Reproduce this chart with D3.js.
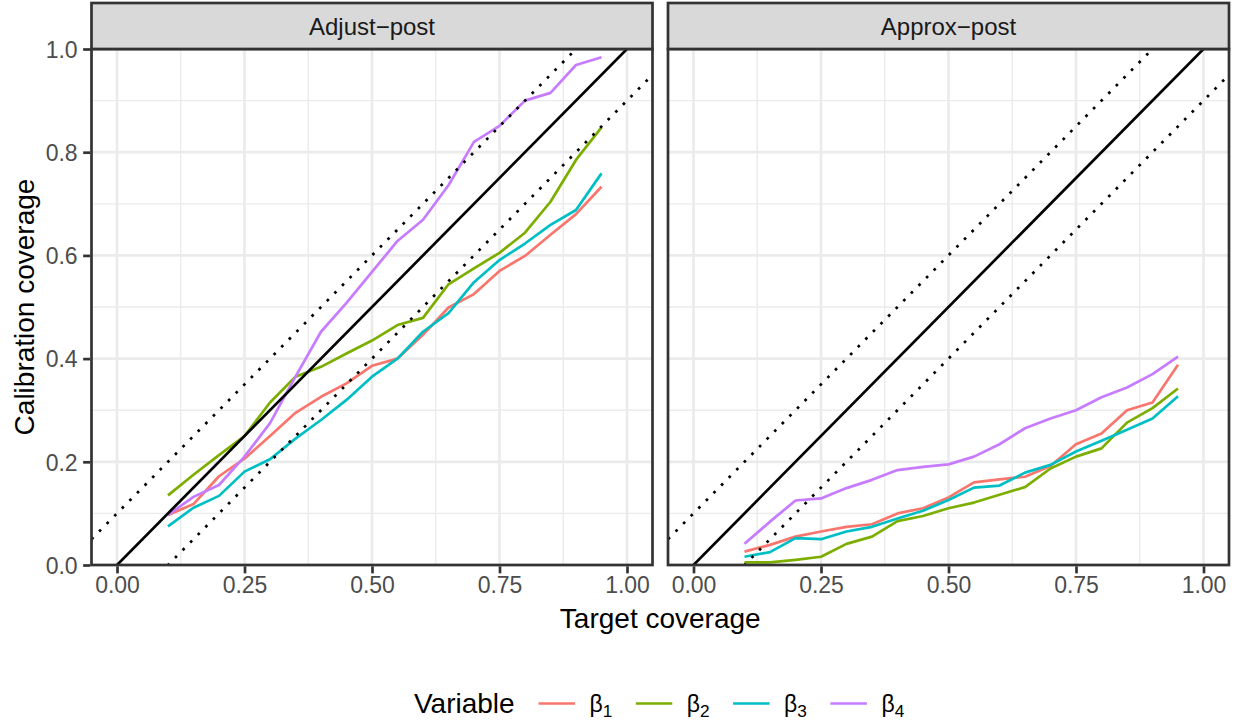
<!DOCTYPE html>
<html>
<head>
<meta charset="utf-8">
<script src="https://cdn.jsdelivr.net/npm/d3@7"></script>
<style>
  html, body { margin: 0; padding: 0; background: #ffffff; }
  svg { display: block; font-family: "Liberation Sans", Arial, Helvetica, sans-serif; }
</style>
</head>
<body>
<svg id="chart" width="1242" height="721"></svg>
<script>
// ---------------- data ----------------
const targetCoverage = [0.10, 0.15, 0.20, 0.25, 0.30, 0.35, 0.40, 0.45, 0.50,
                        0.55, 0.60, 0.65, 0.70, 0.75, 0.80, 0.85, 0.90, 0.95];
const panelNames = ["Adjust\u2212post", "Approx\u2212post"];
const seriesNames = ["1", "2", "3", "4"];   // subscripts of beta
const seriesColors = ["#F8766D", "#7CAE00", "#00BFC4", "#C77CFF"];

// Adjust-post panel
const adjustB1 = [0.097, 0.118, 0.172, 0.206, 0.250, 0.295, 0.326, 0.352, 0.386,
                  0.400, 0.446, 0.499, 0.525, 0.570, 0.599, 0.640, 0.680, 0.733];
const adjustB2 = [0.135, 0.175, 0.213, 0.250, 0.315, 0.365, 0.384, 0.410, 0.435,
                  0.465, 0.479, 0.544, 0.575, 0.605, 0.644, 0.704, 0.785, 0.848];
const adjustB3 = [0.075, 0.111, 0.134, 0.181, 0.205, 0.245, 0.281, 0.320, 0.365,
                  0.400, 0.452, 0.488, 0.548, 0.591, 0.623, 0.659, 0.688, 0.759];
const adjustB4 = [0.097, 0.132, 0.155, 0.210, 0.275, 0.365, 0.452, 0.508, 0.568,
                  0.628, 0.669, 0.736, 0.820, 0.851, 0.900, 0.915, 0.969, 0.984];

// Approx-post panel
const approxB1 = [0.026, 0.039, 0.055, 0.065, 0.074, 0.079, 0.100, 0.110, 0.131,
                  0.160, 0.166, 0.171, 0.192, 0.234, 0.255, 0.300, 0.315, 0.388];
const approxB2 = [0.005, 0.005, 0.010, 0.016, 0.041, 0.055, 0.085, 0.095, 0.110,
                  0.121, 0.136, 0.151, 0.187, 0.210, 0.226, 0.276, 0.304, 0.342];
const approxB3 = [0.016, 0.025, 0.052, 0.050, 0.065, 0.074, 0.090, 0.105, 0.126,
                  0.150, 0.154, 0.179, 0.194, 0.220, 0.241, 0.262, 0.284, 0.327];
const approxB4 = [0.041, 0.084, 0.125, 0.129, 0.149, 0.165, 0.184, 0.190, 0.195,
                  0.210, 0.234, 0.265, 0.284, 0.300, 0.325, 0.344, 0.370, 0.404];

const xTicks = [0, 0.25, 0.5, 0.75, 1.0];
const xTickLabels = ["0.00", "0.25", "0.50", "0.75", "1.00"];
const xMinor = [0.125, 0.375, 0.625, 0.875];
const yTicks = [0, 0.2, 0.4, 0.6, 0.8, 1.0];
const yTickLabels = ["0.0", "0.2", "0.4", "0.6", "0.8", "1.0"];
const yMinor = [0.1, 0.3, 0.5, 0.7, 0.9];
const refOffsets = [0, 0.1, -0.1];   // y = x + offset

const panelSeries = [
  [adjustB1, adjustB2, adjustB3, adjustB4],
  [approxB1, approxB2, approxB3, approxB4]
];

// ---------------- layout ----------------
const svg = d3.select("#chart");
const panelW = 561, panelH = 516;
const panelTop = 49, stripH = 46;
const panelLefts = [91.5, 668];
const lw = 2.7;
const tickFont = 23, stripFont = 24, titleFont = 28;

const x = d3.scaleLinear().domain([-0.05, 1.05]).range([0, panelW]);
const y = d3.scaleLinear().domain([0, 1]).range([panelH, 0]);

const defs = svg.append("defs");
defs.append("clipPath").attr("id", "pclip")
  .append("rect").attr("x", 0).attr("y", 0).attr("width", panelW).attr("height", panelH);

panelNames.forEach((name, pi) => {
  const g = svg.append("g").attr("transform", `translate(${panelLefts[pi]},${panelTop})`);

  g.append("rect").attr("width", panelW).attr("height", panelH).attr("fill", "#ffffff");

  // minor grid
  g.selectAll(".vminor").data(xMinor).enter().append("line")
    .attr("x1", d => x(d)).attr("x2", d => x(d)).attr("y1", 0).attr("y2", panelH)
    .attr("stroke", "#EBEBEB").attr("stroke-width", lw / 2);
  g.selectAll(".hminor").data(yMinor).enter().append("line")
    .attr("y1", d => y(d)).attr("y2", d => y(d)).attr("x1", 0).attr("x2", panelW)
    .attr("stroke", "#EBEBEB").attr("stroke-width", lw / 2);
  // major grid
  g.selectAll(".vmajor").data(xTicks).enter().append("line")
    .attr("x1", d => x(d)).attr("x2", d => x(d)).attr("y1", 0).attr("y2", panelH)
    .attr("stroke", "#EBEBEB").attr("stroke-width", lw);
  g.selectAll(".hmajor").data(yTicks).enter().append("line")
    .attr("y1", d => y(d)).attr("y2", d => y(d)).attr("x1", 0).attr("x2", panelW)
    .attr("stroke", "#EBEBEB").attr("stroke-width", lw);

  const plot = g.append("g").attr("clip-path", "url(#pclip)");

  // series lines
  const line = d3.line().x((d, i) => x(targetCoverage[i])).y(d => y(d));
  panelSeries[pi].forEach((vals, si) => {
    plot.append("path").datum(vals)
      .attr("d", line)
      .attr("fill", "none")
      .attr("stroke", seriesColors[si])
      .attr("stroke-width", lw)
      .attr("stroke-linejoin", "round")
      .attr("stroke-linecap", "butt");
  });

  // reference lines
  refOffsets.forEach(off => {
    const dom = x.domain();
    plot.append("line")
      .attr("x1", x(dom[0])).attr("y1", y(dom[0] + off))
      .attr("x2", x(dom[1])).attr("y2", y(dom[1] + off))
      .attr("stroke", "#000000")
      .attr("stroke-width", lw)
      .attr("stroke-dasharray", off === 0 ? null : `${lw} ${lw * 3}`)
      .attr("stroke-linecap", "butt");
  });

  // panel border
  g.append("rect").attr("width", panelW).attr("height", panelH)
    .attr("fill", "none").attr("stroke", "#333333").attr("stroke-width", lw);

  // strip
  const strip = svg.append("g").attr("transform", `translate(${panelLefts[pi]},${panelTop - stripH})`);
  strip.append("rect").attr("width", panelW).attr("height", stripH)
    .attr("fill", "#D9D9D9").attr("stroke", "#333333").attr("stroke-width", lw);
  strip.append("text").attr("x", panelW / 2).attr("y", stripH / 2)
    .attr("text-anchor", "middle").attr("dominant-baseline", "central")
    .attr("font-size", stripFont).attr("fill", "#1A1A1A").text(name);

  // x axis
  const xAxis = d3.axisBottom(x).tickValues(xTicks)
    .tickFormat((d, i) => xTickLabels[i]).tickSize(7).tickPadding(3.5);
  const xg = g.append("g").attr("transform", `translate(0,${panelH})`).call(xAxis);
  xg.select(".domain").remove();
  xg.selectAll(".tick line").attr("stroke", "#333333").attr("stroke-width", lw)
    .attr("y1", lw / 2).attr("y2", 7 + lw / 2);
  xg.selectAll(".tick text").attr("font-size", tickFont).attr("fill", "#4D4D4D")
    .attr("font-family", "Liberation Sans, Arial, sans-serif").attr("dy", "0.74em");

  // y axis (left panel only)
  if (pi === 0) {
    const yAxis = d3.axisLeft(y).tickValues(yTicks)
      .tickFormat((d, i) => yTickLabels[i]).tickSize(7).tickPadding(6);
    const yg = g.append("g").call(yAxis);
    yg.select(".domain").remove();
    yg.selectAll(".tick line").attr("stroke", "#333333").attr("stroke-width", lw)
      .attr("x1", -lw / 2).attr("x2", -7 - lw / 2);
    yg.selectAll(".tick text").attr("font-size", tickFont).attr("fill", "#4D4D4D")
      .attr("font-family", "Liberation Sans, Arial, sans-serif")
      .attr("x", -(7 + lw / 2 + 5.5)).attr("dy", "0.36em");
  }
});

// axis titles
svg.append("text").attr("x", (panelLefts[0] + panelLefts[1] + panelW) / 2).attr("y", 628)
  .attr("text-anchor", "middle").attr("font-size", titleFont).attr("fill", "#000000")
  .text("Target coverage");
svg.append("text")
  .attr("transform", `translate(34,${panelTop + panelH / 2}) rotate(-90)`)
  .attr("text-anchor", "middle").attr("font-size", titleFont).attr("fill", "#000000")
  .text("Calibration coverage");

// legend
const legY = 703.5;
const leg = svg.append("g");
leg.append("text").attr("x", 414).attr("y", legY).attr("dominant-baseline", "central")
  .attr("font-size", titleFont).attr("fill", "#000000").text("Variable");
seriesNames.forEach((s, i) => {
  const x0 = 538.5 + i * 97.3;
  leg.append("line").attr("x1", x0).attr("x2", x0 + 36.5)
    .attr("y1", legY).attr("y2", legY)
    .attr("stroke", seriesColors[i]).attr("stroke-width", lw);
  const t = leg.append("text").attr("x", x0 + 51).attr("y", legY + 8)
    .attr("font-size", tickFont).attr("fill", "#000000");
  t.append("tspan").text("\u03B2");
  t.append("tspan").attr("font-size", tickFont * 0.75).attr("dy", 5).text(s);
});
</script>
</body>
</html>
